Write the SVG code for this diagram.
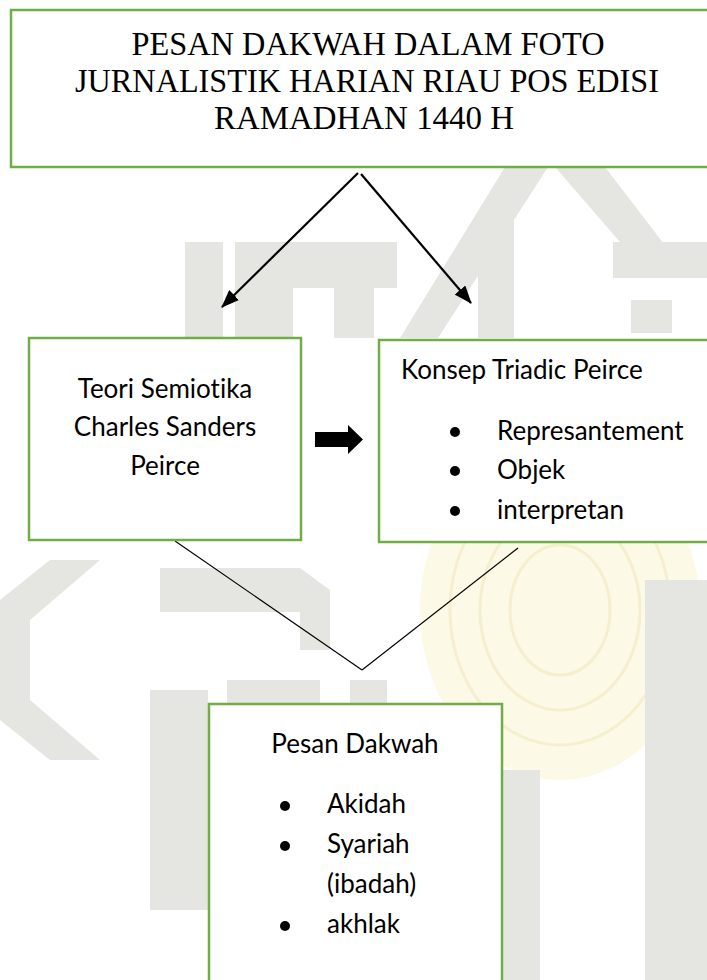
<svg xmlns="http://www.w3.org/2000/svg" width="707" height="980" viewBox="0 0 707 980">
<defs>
<style>
.box{fill:#fff;stroke:#70AD47;stroke-width:2.5}
.title{font-family:"Liberation Serif","Times New Roman",serif;font-size:34px;fill:#000;text-anchor:middle}
.t{font-family:Lato,"Liberation Sans",sans-serif;font-size:26px;fill:#000;font-variant-ligatures:none;font-feature-settings:"liga" 0}
.c{text-anchor:middle}
.wm{fill:#e5e6e1}
.conn{stroke:#000;fill:none}
</style>
<marker id="ah" markerWidth="18" markerHeight="14" refX="17" refY="7" orient="auto" markerUnits="userSpaceOnUse" viewBox="0 0 18 14">
<path d="M0,0 L18,7 L0,14 Z" fill="#000"/>
</marker>
</defs>
<rect width="707" height="980" fill="#fff"/>
<g id="watermark">
<ellipse cx="560" cy="610" rx="140" ry="170" fill="#fcf9e6"/>
<ellipse cx="560" cy="610" rx="110" ry="135" fill="none" stroke="#f5efcf" stroke-width="3"/>
<ellipse cx="560" cy="610" rx="80" ry="100" fill="none" stroke="#f5efcf" stroke-width="3"/>
<ellipse cx="560" cy="610" rx="50" ry="65" fill="none" stroke="#f5efcf" stroke-width="3"/>
<rect class="wm" x="185" y="242" width="38" height="96"/>
<rect class="wm" x="235" y="242" width="162" height="46"/>
<rect class="wm" x="235" y="288" width="58" height="50"/>
<rect class="wm" x="334" y="288" width="40" height="50"/>
<polygon class="wm" points="400,338 438,338 548,167 505,167"/>
<polygon class="wm" points="555,167 605,167 680,265 640,265"/>
<rect class="wm" x="478" y="213" width="36" height="125"/>
<rect class="wm" x="613" y="242" width="94" height="36"/>
<rect class="wm" x="631" y="300" width="41" height="33"/>
<polygon class="wm" points="160,568 300,568 330,590 330,650 300,650 300,612 160,612"/>
<polygon class="wm" points="0,600 50,560 100,560 30,620 30,700 100,760 50,760 0,720"/>
<rect class="wm" x="227" y="680" width="93" height="24"/>
<rect class="wm" x="350" y="680" width="37" height="24"/>
<rect class="wm" x="150" y="690" width="58" height="220"/>
<rect class="wm" x="502" y="770" width="38" height="210"/>
<rect class="wm" x="645" y="580" width="62" height="400"/>
</g>
<g id="connectors">
<line class="conn" x1="358" y1="173" x2="222" y2="307" stroke-width="2.2" marker-end="url(#ah)"/>
<line class="conn" x1="361" y1="174" x2="471" y2="303" stroke-width="2.2" marker-end="url(#ah)"/>
<polygon points="315,432 348,432 348,425 363,439.5 348,454 348,447 315,447" fill="#000"/>
<line class="conn" x1="175" y1="541" x2="362" y2="670" stroke-width="1.2"/>
<line class="conn" x1="518" y1="548" x2="362" y2="670" stroke-width="1.2"/>
</g>
<g id="title">
<rect class="box" x="11" y="10" width="712" height="157"/>
<text class="title" x="368" y="55" textLength="473" lengthAdjust="spacingAndGlyphs">PESAN DAKWAH DALAM FOTO</text>
<text class="title" x="367" y="92" textLength="584" lengthAdjust="spacingAndGlyphs">JURNALISTIK HARIAN RIAU POS EDISI</text>
<text class="title" x="364" y="129" textLength="300" lengthAdjust="spacingAndGlyphs">RAMADHAN 1440 H</text>
</g>
<g id="teori">
<rect class="box" x="29" y="338" width="272" height="202"/>
<text class="t c" x="165" y="398">Teori Semiotika</text>
<text class="t c" x="165" y="436">Charles Sanders</text>
<text class="t c" x="165" y="475">Peirce</text>
</g>
<g id="triadic">
<rect class="box" x="379" y="340" width="340" height="202"/>
<text class="t" x="401" y="379">Konsep Triadic Peirce</text>
<circle cx="455" cy="432" r="5"/>
<text class="t" x="497" y="440">Represantement</text>
<circle cx="455" cy="471" r="5"/>
<text class="t" x="497" y="479">Objek</text>
<circle cx="455" cy="511" r="5"/>
<text class="t" x="497" y="519">interpretan</text>
</g>
<g id="pesan">
<rect class="box" x="209" y="704" width="293" height="290"/>
<text class="t c" x="355" y="753">Pesan Dakwah</text>
<circle cx="285" cy="806" r="5"/>
<text class="t" x="327" y="813">Akidah</text>
<circle cx="285" cy="846" r="5"/>
<text class="t" x="327" y="853">Syariah</text>
<text class="t" x="327" y="893">(ibadah)</text>
<circle cx="285" cy="926" r="5"/>
<text class="t" x="327" y="933">akhlak</text>
</g>
</svg>
